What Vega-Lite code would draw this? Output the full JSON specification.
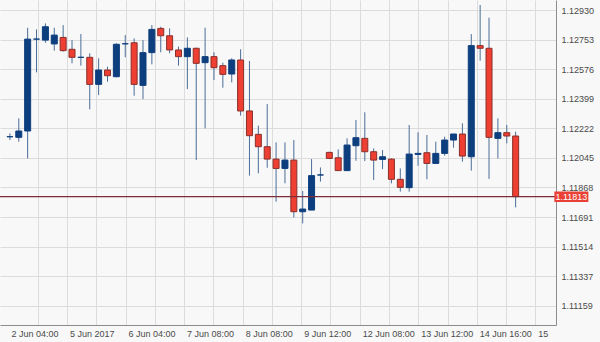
{
  "$schema": "https://vega.github.io/schema/vega-lite/v6.json",
  "width": 556,
  "height": 325,
  "autosize": {"type": "none"},
  "padding": {"left": 0, "top": 0, "right": 44, "bottom": 17},
  "background": "#f8f8f8",
  "config": {
    "view": {"stroke": null},
    "axis": {"labelFont": "Liberation Sans", "labelFontSize": 9, "labelColor": "#4a4a4a", "tickSize": 0, "domainColor": "#8c8c8c", "gridColor": "#dcdcdc", "gridOpacity": 1, "title": null}
  },
  "datasets": {
    "candles": [
      {"i": 1, "o": 1.12172, "h": 1.12192, "l": 1.12152, "c": 1.12172},
      {"i": 2, "o": 1.12168, "h": 1.12282, "l": 1.12142, "c": 1.12206},
      {"i": 3, "o": 1.12206, "h": 1.12824, "l": 1.12042, "c": 1.12756},
      {"i": 4, "o": 1.12756, "h": 1.12814, "l": 1.12557, "c": 1.12756},
      {"i": 5, "o": 1.12750, "h": 1.12850, "l": 1.12734, "c": 1.12830},
      {"i": 6, "o": 1.12727, "h": 1.12824, "l": 1.12687, "c": 1.12780},
      {"i": 7, "o": 1.12766, "h": 1.12840, "l": 1.12681, "c": 1.12687},
      {"i": 8, "o": 1.12695, "h": 1.12750, "l": 1.12611, "c": 1.12647},
      {"i": 9, "o": 1.12647, "h": 1.12786, "l": 1.12597, "c": 1.12647},
      {"i": 10, "o": 1.12647, "h": 1.12671, "l": 1.12336, "c": 1.12485},
      {"i": 11, "o": 1.12485, "h": 1.12641, "l": 1.12421, "c": 1.12571},
      {"i": 12, "o": 1.12571, "h": 1.12591, "l": 1.12501, "c": 1.12537},
      {"i": 13, "o": 1.12531, "h": 1.12731, "l": 1.12527, "c": 1.12725},
      {"i": 14, "o": 1.12728, "h": 1.12780, "l": 1.12647, "c": 1.12728},
      {"i": 15, "o": 1.12734, "h": 1.12760, "l": 1.12417, "c": 1.12485},
      {"i": 16, "o": 1.12479, "h": 1.12750, "l": 1.12397, "c": 1.12675},
      {"i": 17, "o": 1.12675, "h": 1.12840, "l": 1.12605, "c": 1.12814},
      {"i": 18, "o": 1.12820, "h": 1.12830, "l": 1.12677, "c": 1.12776},
      {"i": 19, "o": 1.12776, "h": 1.12820, "l": 1.12671, "c": 1.12691},
      {"i": 20, "o": 1.12691, "h": 1.12711, "l": 1.12597, "c": 1.12651},
      {"i": 21, "o": 1.12651, "h": 1.12766, "l": 1.12457, "c": 1.12701},
      {"i": 22, "o": 1.12701, "h": 1.12705, "l": 1.12032, "c": 1.12611},
      {"i": 23, "o": 1.12615, "h": 1.12824, "l": 1.12222, "c": 1.12651},
      {"i": 24, "o": 1.12651, "h": 1.12677, "l": 1.12511, "c": 1.12585},
      {"i": 25, "o": 1.12597, "h": 1.12615, "l": 1.12465, "c": 1.12545},
      {"i": 26, "o": 1.12547, "h": 1.12641, "l": 1.12497, "c": 1.12631},
      {"i": 27, "o": 1.12631, "h": 1.12695, "l": 1.12298, "c": 1.12326},
      {"i": 28, "o": 1.12326, "h": 1.12625, "l": 1.11939, "c": 1.12178},
      {"i": 29, "o": 1.12186, "h": 1.12238, "l": 1.11953, "c": 1.12112},
      {"i": 30, "o": 1.12112, "h": 1.12367, "l": 1.11986, "c": 1.12038},
      {"i": 31, "o": 1.12038, "h": 1.12138, "l": 1.11783, "c": 1.11982},
      {"i": 32, "o": 1.11982, "h": 1.12138, "l": 1.11893, "c": 1.12032},
      {"i": 33, "o": 1.12032, "h": 1.12152, "l": 1.11689, "c": 1.11723},
      {"i": 34, "o": 1.11723, "h": 1.11847, "l": 1.11653, "c": 1.11739},
      {"i": 35, "o": 1.11733, "h": 1.12038, "l": 1.11733, "c": 1.11939},
      {"i": 36, "o": 1.11943, "h": 1.11988, "l": 1.11903, "c": 1.11943},
      {"i": 37, "o": 1.12078, "h": 1.12082, "l": 1.12038, "c": 1.12042},
      {"i": 38, "o": 1.12046, "h": 1.12096, "l": 1.11969, "c": 1.11969},
      {"i": 39, "o": 1.11969, "h": 1.12162, "l": 1.11969, "c": 1.12122},
      {"i": 40, "o": 1.12118, "h": 1.12272, "l": 1.12028, "c": 1.12166},
      {"i": 41, "o": 1.12162, "h": 1.12318, "l": 1.12026, "c": 1.12082},
      {"i": 42, "o": 1.12082, "h": 1.12102, "l": 1.11913, "c": 1.12032},
      {"i": 43, "o": 1.12036, "h": 1.12092, "l": 1.11978, "c": 1.12052},
      {"i": 44, "o": 1.12038, "h": 1.12042, "l": 1.11893, "c": 1.11917},
      {"i": 45, "o": 1.11917, "h": 1.11982, "l": 1.11843, "c": 1.11869},
      {"i": 46, "o": 1.11867, "h": 1.12242, "l": 1.11843, "c": 1.12068},
      {"i": 47, "o": 1.12066, "h": 1.12198, "l": 1.11998, "c": 1.12072},
      {"i": 48, "o": 1.12076, "h": 1.12182, "l": 1.11917, "c": 1.12012},
      {"i": 49, "o": 1.12012, "h": 1.12142, "l": 1.12012, "c": 1.12072},
      {"i": 50, "o": 1.12072, "h": 1.12172, "l": 1.12058, "c": 1.12152},
      {"i": 51, "o": 1.12152, "h": 1.12188, "l": 1.12106, "c": 1.12188},
      {"i": 52, "o": 1.12188, "h": 1.12252, "l": 1.12022, "c": 1.12056},
      {"i": 53, "o": 1.12052, "h": 1.12786, "l": 1.11969, "c": 1.12717},
      {"i": 54, "o": 1.12717, "h": 1.12960, "l": 1.12627, "c": 1.12701},
      {"i": 55, "o": 1.12701, "h": 1.12884, "l": 1.11919, "c": 1.12168},
      {"i": 56, "o": 1.12162, "h": 1.12282, "l": 1.12042, "c": 1.12196},
      {"i": 57, "o": 1.12196, "h": 1.12242, "l": 1.12132, "c": 1.12176},
      {"i": 58, "o": 1.12176, "h": 1.12202, "l": 1.11749, "c": 1.11813}
    ],
    "price": [{"p": 1.11813, "label": "1.11813"}]
  },
  "layer": [
    {
      "data": {"name": "candles"},
      "mark": {"type": "rule", "color": "#4a6d98", "strokeWidth": 1},
      "encoding": {
        "x": {
          "field": "i", "type": "quantitative", "title": null,
          "scale": {"domain": [0.4466, 61.985], "nice": false, "zero": false},
          "axis": {
            "orient": "bottom",
            "values": [0.834, 4.1334, 7.4328, 10.7322, 14.0316, 17.331, 20.6304, 23.9298, 27.2292, 30.5286, 33.828, 37.1274, 40.4268, 43.7262, 47.0256, 50.325, 53.6244, 56.9238, 60.2232],
            "tickCount": 30,
            "labelExpr": "['2 Jun 04:00','','5 Jun 2017','','6 Jun 04:00','','7 Jun 08:00','','8 Jun 08:00','','9 Jun 12:00','','12 Jun 08:00','','13 Jun 12:00','','14 Jun 16:00','','15'][round((datum.value-0.834)/3.2994)]",
            "labelAlign": "left",
            "labelBaseline": "top",
            "labelOffset": 2.5,
            "labelPadding": 4,
            "labelFlush": false,
            "labelOverlap": false,
            "grid": true,
            "gridColor": {"condition": {"test": "datum.value < 1", "value": "transparent"}, "value": "#dcdcdc"}
          }
        },
        "y": {
          "field": "l", "type": "quantitative", "title": null,
          "scale": {"domain": [1.110451, 1.1299], "nice": false, "zero": false},
          "axis": {
            "orient": "right",
            "values": [1.11159, 1.11337, 1.11514, 1.11691, 1.11868, 1.12045, 1.12222, 1.12399, 1.12576, 1.12753, 1.1293],
            "tickCount": 20,
            "format": ".5f",
            "labelPadding": 5,
            "labelAlign": "left",
            "labelOverlap": false,
            "labelFlush": false,
            "grid": true
          }
        },
        "y2": {"field": "h"}
      }
    },
    {
      "data": {"name": "candles"},
      "mark": {"type": "bar", "width": 6, "strokeWidth": 1},
      "encoding": {
        "x": {"field": "i", "type": "quantitative", "title": null},
        "y": {"field": "o", "type": "quantitative", "title": null},
        "y2": {"field": "c"},
        "fill": {"condition": {"test": "datum.c >= datum.o", "value": "#0d3e7e"}, "value": "#ef3e32"},
        "stroke": {"condition": {"test": "datum.c >= datum.o", "value": "#0d3e7e"}, "value": "#8a302a"}
      }
    },
    {
      "data": {"name": "price"},
      "mark": {"type": "rule", "color": "#7e2d3a", "strokeWidth": 1.2},
      "encoding": {
        "y": {"field": "p", "type": "quantitative", "title": null}
      }
    },
    {
      "data": {"name": "price"},
      "mark": {"type": "point", "shape": "M-1,-0.309H1V0.309H-1Z", "size": 1156, "filled": true, "fill": "#ea4136", "opacity": 1, "strokeWidth": 0},
      "encoding": {
        "x": {"datum": 64.28, "type": "quantitative", "title": null},
        "y": {"field": "p", "type": "quantitative", "title": null}
      }
    },
    {
      "data": {"name": "price"},
      "mark": {"type": "text", "font": "Liberation Sans", "fontSize": 9, "color": "#ffffff", "align": "center", "baseline": "middle"},
      "encoding": {
        "x": {"datum": 64.28, "type": "quantitative", "title": null},
        "y": {"field": "p", "type": "quantitative", "title": null},
        "text": {"field": "label"}
      }
    }
  ]
}
